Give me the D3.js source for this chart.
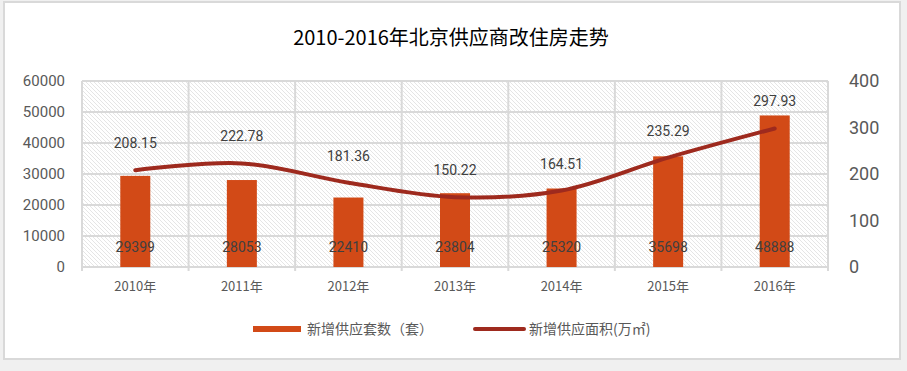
<!DOCTYPE html>
<html>
<head>
<meta charset="utf-8">
<script src="https://cdn.jsdelivr.net/npm/d3@7"></script>
<style>
	body { margin: 0; background: #f0f0f0; }
	svg { display: block; font-family: "Noto Sans CJK SC", "Noto Sans", sans-serif; }
</style>
</head>
<body>
<div id="chart"></div>
<script>
// chart data
var years = ["2010年", "2011年", "2012年", "2013年", "2014年", "2015年", "2016年"];
var units = [29399, 28053, 22410, 23804, 25320, 35698, 48888];	// 新增供应套数（套）
var area = [208.15, 222.78, 181.36, 150.22, 164.51, 235.29, 297.93];	// 新增供应面积(万㎡)
var leftTicks = [0, 10000, 20000, 30000, 40000, 50000, 60000];
var rightTicks = [0, 100, 200, 300, 400];

var width = 907,
	height = 371;

var plot = {left: 82, right: 828, top: 81, bottom: 267};

var barColor = "#d24a17",
	lineColor = "#9e2a1e",
	gridColor = "#d9d9d9",
	textColor = "#595959";

var svg = d3.select("#chart").append("svg")
	.attr("width", width)
	.attr("height", height);

// hatch pattern for the plot background
var defs = svg.append("defs");
var pat = defs.append("pattern")
	.attr("id", "hatch")
	.attr("patternUnits", "userSpaceOnUse")
	.attr("width", 4)
	.attr("height", 4);
pat.append("rect").attr("width", 4).attr("height", 4).attr("fill", "#ffffff");
pat.append("path")
	.attr("d", "M-1,-1 L5,5 M-1,3 L1,5 M3,-1 L5,1")
	.attr("stroke", "#dadada")
	.attr("stroke-width", 0.7);

// chart box
svg.append("rect")
	.attr("x", 4).attr("y", 2)
	.attr("width", 896).attr("height", 357)
	.attr("fill", "#ffffff")
	.attr("stroke", gridColor)
	.attr("stroke-width", 2);

var x = d3.scaleBand()
	.domain(years)
	.range([plot.left, plot.right])
	.paddingInner(0)
	.paddingOuter(0);

var yLeft = d3.scaleLinear().domain([0, 60000]).range([plot.bottom, plot.top]);
var yRight = d3.scaleLinear().domain([0, 400]).range([plot.bottom, plot.top]);

svg.append("rect")
	.attr("x", plot.left).attr("y", plot.top)
	.attr("width", plot.right - plot.left)
	.attr("height", plot.bottom - plot.top)
	.attr("fill", "url(#hatch)");

// gridlines
var grid = svg.append("g").attr("class", "grid");
grid.selectAll("line.h")
	.data(leftTicks)
	.enter()
	.append("line")
	.attr("x1", plot.left).attr("x2", plot.right)
	.attr("y1", d => yLeft(d)).attr("y2", d => yLeft(d))
	.attr("stroke", gridColor)
	.attr("stroke-width", 2);

var bounds = years.map(d => x(d)).concat([plot.right]);
grid.selectAll("line.v")
	.data(bounds)
	.enter()
	.append("line")
	.attr("x1", d => d).attr("x2", d => d)
	.attr("y1", plot.top).attr("y2", plot.bottom + 4)
	.attr("stroke", gridColor)
	.attr("stroke-width", 2);

// left axis
var leftAxis = svg.append("g")
	.attr("transform", "translate(" + (plot.left - 17) + ",0)")
	.call(d3.axisLeft(yLeft).tickValues(leftTicks).tickFormat(d3.format("d")).tickSize(0).tickPadding(0));
leftAxis.select(".domain").remove();
leftAxis.selectAll("text")
	.attr("fill", textColor)
	.attr("font-size", 15)
	.attr("font-family", "Roboto, 'Noto Sans', sans-serif");

// right axis
var rightAxis = svg.append("g")
	.attr("transform", "translate(" + (plot.right + 21) + ",0)")
	.call(d3.axisRight(yRight).tickValues(rightTicks).tickSize(0).tickPadding(0));
rightAxis.select(".domain").remove();
rightAxis.selectAll("text")
	.attr("fill", textColor)
	.attr("font-size", 18)
	.attr("font-family", "Roboto, 'Noto Sans', sans-serif");

// x axis labels
svg.append("g")
	.selectAll("text")
	.data(years)
	.enter()
	.append("text")
	.attr("x", d => x(d) + x.bandwidth() / 2)
	.attr("y", 291)
	.attr("text-anchor", "middle")
	.attr("fill", textColor)
	.attr("font-size", 13)
	.text(d => d);

// bars
var barW = 30;
svg.append("g")
	.selectAll("rect")
	.data(units)
	.enter()
	.append("rect")
	.attr("x", (d, i) => x(years[i]) + x.bandwidth() / 2 - barW / 2)
	.attr("y", d => yLeft(d))
	.attr("width", barW)
	.attr("height", d => yLeft(0) - yLeft(d))
	.attr("fill", barColor);

// line (Excel style smoothing)
var line = d3.line()
	.x((d, i) => x(years[i]) + x.bandwidth() / 2)
	.y(d => yRight(d))
	.curve(d3.curveCatmullRom.alpha(0.5));

svg.append("path")
	.datum(area)
	.attr("d", line)
	.attr("fill", "none")
	.attr("stroke", lineColor)
	.attr("stroke-width", 4)
	.attr("stroke-linecap", "round");

// data labels
svg.append("g")
	.selectAll("text")
	.data(units)
	.enter()
	.append("text")
	.attr("x", (d, i) => x(years[i]) + x.bandwidth() / 2)
	.attr("y", 252)
	.attr("text-anchor", "middle")
	.attr("fill", "#404040")
	.attr("font-size", 14)
	.attr("font-family", "Roboto, 'Noto Sans', sans-serif")
	.text(d => d);

svg.append("g")
	.selectAll("text")
	.data(area)
	.enter()
	.append("text")
	.attr("x", (d, i) => x(years[i]) + x.bandwidth() / 2)
	.attr("y", d => yRight(d) - 22)
	.attr("text-anchor", "middle")
	.attr("fill", "#404040")
	.attr("font-size", 14)
	.attr("font-family", "Roboto, 'Noto Sans', sans-serif")
	.text(d => d.toFixed(2));

// title
svg.append("text")
	.attr("x", 451)
	.attr("y", 45)
	.attr("text-anchor", "middle")
	.attr("fill", "#000000")
	.attr("font-size", 20)
	.text("2010-2016年北京供应商改住房走势");

// legend
var legend = svg.append("g");
legend.append("rect")
	.attr("x", 253).attr("y", 326)
	.attr("width", 48).attr("height", 6)
	.attr("fill", barColor);
legend.append("text")
	.attr("x", 307).attr("y", 334)
	.attr("fill", textColor)
	.attr("font-size", 14)
	.text("新增供应套数（套）");
legend.append("line")
	.attr("x1", 475).attr("x2", 524)
	.attr("y1", 329).attr("y2", 329)
	.attr("stroke", lineColor)
	.attr("stroke-width", 4)
	.attr("stroke-linecap", "round");
legend.append("text")
	.attr("x", 529).attr("y", 334)
	.attr("fill", textColor)
	.attr("font-size", 14)
	.text("新增供应面积(万㎡)");
</script>
</body>
</html>
